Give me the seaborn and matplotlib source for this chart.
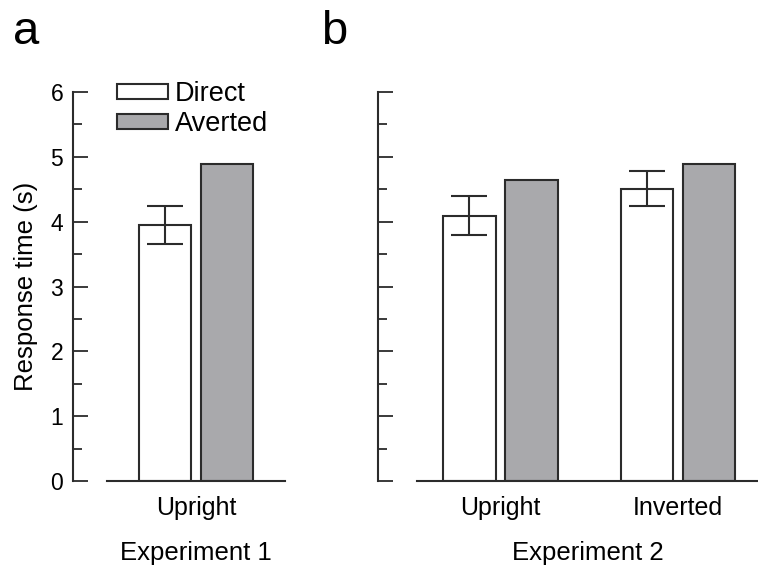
import pandas as pd
import seaborn as sns
import matplotlib.pyplot as plt

# values (seconds)
exp1_conditions = ["Upright"]
exp1_direct = [3.95]
exp1_averted = [4.89]
exp1_direct_sem = [0.29]

exp2_conditions = ["Upright", "Inverted"]
exp2_direct = [4.09, 4.51]
exp2_averted = [4.65, 4.89]
exp2_direct_sem = [0.30, 0.27]

gaze_order = ["Direct", "Averted"]
gaze_colors = {"Direct": "white", "Averted": "#a9a9ac"}
EDGE = "#2b2b2b"


def make_df(conditions, direct, averted):
    rows = []
    for c, d, a in zip(conditions, direct, averted):
        rows.append({"orientation": c, "gaze": "Direct", "rt": d})
        rows.append({"orientation": c, "gaze": "Averted", "rt": a})
    return pd.DataFrame(rows)


def draw_panel(ax, df, conditions, sem, xlim, spine_offset):
    sns.barplot(data=df, x="orientation", y="rt", hue="gaze",
                order=conditions, hue_order=gaze_order, palette=gaze_colors,
                width=0.7, gap=0.16, errorbar=None, legend=False,
                edgecolor=EDGE, linewidth=1.5, ax=ax)
    # error bars only on the direct-gaze bars
    direct_bars = ax.containers[0]
    xs = [p.get_x() + p.get_width() / 2 for p in direct_bars.patches]
    ys = [p.get_height() for p in direct_bars.patches]
    ax.errorbar(xs, ys, yerr=sem, fmt="none", ecolor=EDGE, elinewidth=1.5,
                capsize=13, capthick=1.5, zorder=5)

    ax.set_xlim(*xlim)
    ax.set_ylim(0, 6)
    ax.set_yticks(range(0, 7))
    ax.set_yticks([i + 0.5 for i in range(6)], minor=True)
    ax.tick_params(axis="y", which="major", direction="in", length=10.5, width=1.3,
                   color=EDGE, labelsize=16.5, labelcolor="black", pad=7)
    ax.tick_params(axis="y", which="minor", direction="in", length=6.5, width=1.3, color=EDGE)
    ax.tick_params(axis="x", length=0, labelsize=18, labelcolor="black", pad=11)
    sns.despine(ax=ax)
    ax.spines["left"].set_position(("outward", spine_offset))
    for s in ["left", "bottom"]:
        ax.spines[s].set_color(EDGE)
        ax.spines[s].set_linewidth(1.5)
    ax.set_ylabel("")


sns.set_theme(style="ticks")
plt.rcParams["font.family"] = ["Liberation Sans", "DejaVu Sans"]
plt.rcParams["text.color"] = "black"
plt.rcParams["axes.labelcolor"] = "black"

fig = plt.figure(figsize=(7.58, 5.72), dpi=100)
ax_a = fig.add_axes([107 / 758, 91 / 572, 178 / 758, 389 / 572])
ax_b = fig.add_axes([417 / 758, 91 / 572, 341 / 758, 389 / 572])

df1 = make_df(exp1_conditions, exp1_direct, exp1_averted)
df2 = make_df(exp2_conditions, exp2_direct, exp2_averted)

draw_panel(ax_a, df1, exp1_conditions, exp1_direct_sem, (-0.5, 0.5), 24.5)
draw_panel(ax_b, df2, exp2_conditions, exp2_direct_sem, (-0.47, 1.45), 28)

ax_a.set_ylabel("Response time (s)", fontsize=18.5, labelpad=9)
ax_b.tick_params(axis="y", labelleft=False)

ax_a.set_xlabel("Experiment 1", fontsize=18.5, labelpad=15)
ax_b.set_xlabel("Experiment 2", fontsize=18.5, labelpad=15)

ax_a.legend(ax_a.containers[:2], gaze_order, loc="upper left",
            bbox_to_anchor=(117 / 758, 1 - 81 / 572), bbox_transform=fig.transFigure,
            frameon=False, fontsize=19.5, handlelength=1.9, handleheight=0.45,
            handletextpad=0.25, labelspacing=0.15, borderpad=0, borderaxespad=0)

fig.text(13 / 758, 1 - 44 / 572, "a", fontsize=34, va="baseline")
fig.text(321 / 758, 1 - 44 / 572, "b", fontsize=34, va="baseline")

fig.savefig("out.png", dpi=100)
